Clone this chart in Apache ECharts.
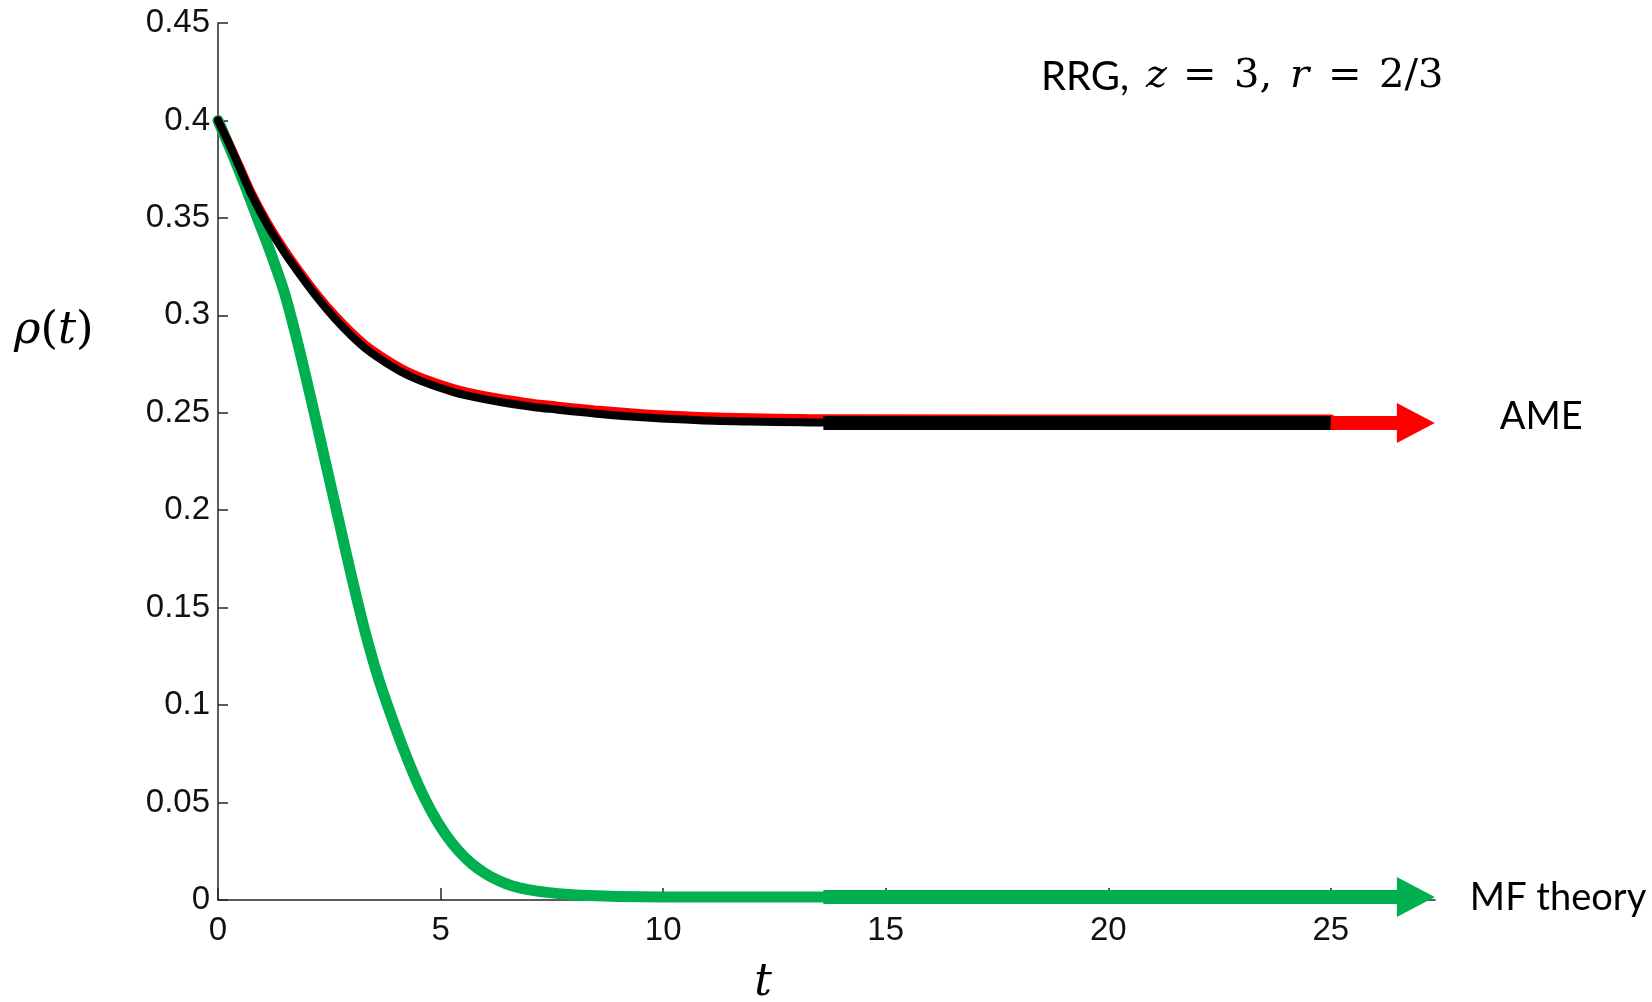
<!DOCTYPE html>
<html>
<head>
<meta charset="utf-8">
<script src="https://cdn.jsdelivr.net/npm/echarts@6/dist/echarts.min.js"></script>
<style>
  html, body { margin: 0; padding: 0; background: #ffffff; }
  #chart { width: 1652px; height: 1002px; }
</style>
</head>
<body>
<div id="chart"></div>
<script>
// Axis ticks
const xTickValues = [0, 5, 10, 15, 20, 25];
const yTickLabels = ['0', '0.05', '0.1', '0.15', '0.2', '0.25', '0.3', '0.35', '0.4', '0.45'];

// Monte Carlo simulation (black)
const tSim = [0, 0.25, 0.5, 0.75, 1.12, 1.5, 1.87, 2.25, 2.62, 3.0, 3.37, 3.75, 4.12, 4.49, 4.87,
  5.24, 5.6, 6.34, 7.08, 7.46, 8.58, 9.71, 10.8, 11.96, 13.08, 13.6];
const rhoSim = [0.400, 0.388, 0.375, 0.362, 0.346, 0.332, 0.320, 0.3085, 0.2985, 0.2895, 0.2820, 0.2760, 0.2710, 0.2670, 0.2637,
  0.2610, 0.2588, 0.2555, 0.2530, 0.2520, 0.2494, 0.2474, 0.2462, 0.2455, 0.2451, 0.2450];

// Approximate master equation (red)
const tAME = [0, 0.25, 0.5, 0.75, 1.12, 1.5, 1.87, 2.25, 2.62, 3.0, 3.37, 3.75, 4.12, 4.49, 4.87,
  5.24, 5.6, 6.34, 7.08, 7.46, 8.58, 9.71, 10.8, 11.96, 13.08, 13.6, 25];
const rhoAME = [0.400, 0.3885, 0.376, 0.3633, 0.3475, 0.3337, 0.3217, 0.3103, 0.3004, 0.2915, 0.2840, 0.2780, 0.2730, 0.2690, 0.2658,
  0.2631, 0.2609, 0.2576, 0.2551, 0.2541, 0.2515, 0.2495, 0.2484, 0.2477, 0.2473, 0.2472, 0.2470];

// Mean-field theory (green)
const tMF = [0, 0.3, 0.6, 0.9, 1.2, 1.5, 1.8, 2.1, 2.4, 2.7, 3.0, 3.3, 3.6, 3.9, 4.2, 4.5, 4.8,
  5.1, 5.4, 5.7, 6.0, 6.3, 6.6, 7.0, 7.4, 7.8, 8.3, 9.0, 10, 11, 12, 13.6];
const rhoMF = [0.400, 0.384, 0.367, 0.349, 0.331, 0.311, 0.285, 0.256, 0.226, 0.196, 0.166, 0.138, 0.114, 0.094, 0.0755, 0.059, 0.0452,
  0.0340, 0.0253, 0.0186, 0.0137, 0.0100, 0.0073, 0.0052, 0.0039, 0.0030, 0.0023, 0.0018, 0.0016, 0.0015, 0.0015, 0.0015];

// Long-time limits, drawn as arrows past the last tick
const arrowStartT = 13.6;
const axisEndT = 25;
const arrowHeadT = 26.91;
const arrowTipT = 27.34;
const ameLimit = 0.2448;
const mfLimit = 0.0015;

const RED = '#ff0000';
const BLACK = '#000000';
const GREEN = '#00b050';

const pairs = (xs, ys) => xs.map((x, i) => [x, ys[i]]);

const chart = echarts.init(document.getElementById('chart'), null, { renderer: 'canvas' });

function arrowSeries(color, level, fromT, label, labelDistance, labelOffsetY) {
  return {
    type: 'line',
    data: [
      { value: [fromT, level], symbol: 'none' },
      { value: [arrowHeadT, level], symbol: 'triangle', symbolSize: [40, 38], symbolRotate: -90 }
    ],
    showSymbol: true,
    lineStyle: { color: color, width: 14, cap: 'butt' },
    itemStyle: { color: color },
    silent: true,
    endLabel: {
      show: true,
      formatter: label,
      distance: labelDistance,
      offset: [0, labelOffsetY],
      color: '#000000',
      fontFamily: 'Lato',
      fontWeight: 'normal',
      fontSize: 38
    }
  };
}

const option = {
  backgroundColor: '#ffffff',
  animation: false,
  grid: { left: 218, right: 217, top: 23, bottom: 102, containLabel: false, outerBoundsMode: 'none' },
  title: [
    {
      text: '{i|ρ}{n|(}{i|t}{n|)}',
      left: 9,
      top: 304,
      textStyle: {
        fontWeight: 'normal',
        rich: {
          i: { fontFamily: 'DejaVu Serif', fontStyle: 'italic', fontWeight: 'normal', fontSize: 45, color: '#000' },
          n: { fontFamily: 'DejaVu Serif', fontWeight: 'normal', fontSize: 45, color: '#000' }
        }
      }
    },
    {
      text: '{s|RRG,}{z|z}{e|=}{a|3,}{r|r}{e|=}{b|2/3}',
      left: 1036,
      top: 52,
      textStyle: {
        fontWeight: 'normal',
        rich: {
          s: { fontFamily: 'Lato', fontWeight: 'normal', fontSize: 40, color: '#000', width: 105 },
          z: { fontFamily: 'DejaVu Serif', fontStyle: 'italic', fontWeight: 'normal', fontSize: 40, color: '#000', width: 37 },
          e: { fontFamily: 'DejaVu Serif', fontWeight: 'normal', fontSize: 40, color: '#000', width: 51 },
          a: { fontFamily: 'DejaVu Serif', fontWeight: 'normal', fontSize: 40, color: '#000', width: 56 },
          r: { fontFamily: 'DejaVu Serif', fontStyle: 'italic', fontWeight: 'normal', fontSize: 40, color: '#000', width: 38 },
          b: { fontFamily: 'DejaVu Serif', fontWeight: 'normal', fontSize: 40, color: '#000' }
        }
      }
    }
  ],
  xAxis: {
    type: 'value',
    min: 0,
    max: arrowTipT,
    name: 't',
    nameLocation: 'middle',
    nameGap: 62,
    nameTextStyle: {
      fontFamily: 'DejaVu Serif', fontStyle: 'italic', fontSize: 44, color: '#000',
      padding: [0, 127, 0, 0]
    },
    axisLine: { show: true, lineStyle: { color: '#262626', width: 1.5 } },
    axisTick: { show: true, inside: true, length: 12, lineStyle: { color: '#262626', width: 1.5 }, customValues: xTickValues },
    axisLabel: {
      margin: 14, color: '#111', fontFamily: 'Liberation Sans', fontSize: 33,
      customValues: xTickValues
    },
    splitLine: { show: false }
  },
  yAxis: {
    type: 'value',
    min: 0,
    max: 0.45,
    interval: 0.05,
    axisLine: { show: true, lineStyle: { color: '#262626', width: 1.5 } },
    axisTick: { show: true, inside: true, length: 10, lineStyle: { color: '#262626', width: 1.5 } },
    axisLabel: {
      margin: 8, color: '#111', fontFamily: 'Liberation Sans', fontSize: 33,
      formatter: v => yTickLabels[Math.round(v / 0.05)]
    },
    splitLine: { show: false }
  },
  series: [
    {
      name: 'MF theory',
      type: 'line',
      data: pairs(tMF, rhoMF),
      symbol: 'none',
      smooth: 0.3,
      lineStyle: { color: GREEN, width: 11, join: 'round', cap: 'round' },
      silent: true
    },
    arrowSeries(GREEN, mfLimit, arrowStartT, 'MF theory', 54, 1),
    arrowSeries(RED, ameLimit, axisEndT, 'AME', 84, -6),
    {
      name: 'AME',
      type: 'line',
      data: pairs(tAME, rhoAME),
      symbol: 'none',
      smooth: 0.3,
      lineStyle: { color: RED, width: 8, join: 'round', cap: 'round' },
      silent: true
    },
    {
      name: 'Simulation',
      type: 'line',
      data: pairs(tSim, rhoSim),
      symbol: 'none',
      smooth: 0.3,
      lineStyle: { color: BLACK, width: 8, join: 'round', cap: 'round' },
      silent: true
    },
    {
      name: 'Simulation limit',
      type: 'line',
      data: [[arrowStartT, ameLimit], [axisEndT, ameLimit]],
      symbol: 'none',
      lineStyle: { color: BLACK, width: 14, cap: 'butt' },
      silent: true
    }
  ]
};

chart.setOption(option);
</script>
</body>
</html>
